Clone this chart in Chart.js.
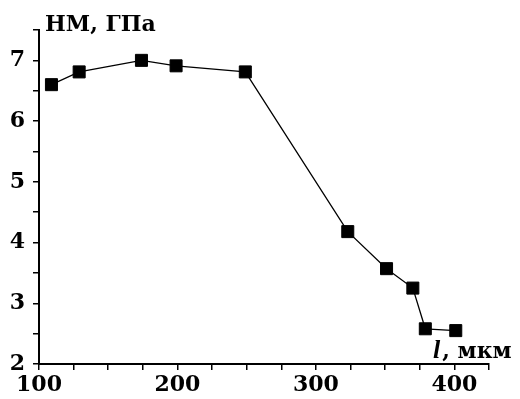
<!DOCTYPE html>
<html>
<head>
<meta charset="utf-8">
<script src="https://cdn.jsdelivr.net/npm/chart.js@4/dist/chart.umd.min.js"></script>
<style>
  html, body { margin: 0; padding: 0; background: #fff; }
  #wrap { width: 520px; height: 399px; }
</style>
</head>
<body>
<div id="wrap"><canvas id="hmChart" width="520" height="399"></canvas></div>
<script>
// depth l, мкм
const depthValues = [109, 129, 174, 199, 249, 323, 351, 370, 379, 401]
// HM, ГПа
const hmValues = [6.6, 6.81, 7.0, 6.91, 6.81, 4.18, 3.57, 3.25, 2.58, 2.55]
const xTickLabels = [100, 200, 300, 400]
const yTickLabels = [2, 3, 4, 5, 6, 7]
const yTitle = 'НМ, ГПа'
const xTitleVar = 'l'
const xTitleUnit = ', мкм'

const tickFont = { family: 'DejaVu Serif', size: 22, weight: 'bold' }

const axisText = {
  id: 'axisText',
  afterDraw(chart) {
    const { ctx, chartArea } = chart
    ctx.save()
    ctx.fillStyle = '#000'
    ctx.textBaseline = 'alphabetic'
    ctx.textAlign = 'left'
    ctx.font = 'bold 22px "DejaVu Serif"'
    ctx.fillText(yTitle, chartArea.left + 6, 31)

    ctx.font = 'italic bold 26px "Liberation Serif"'
    ctx.fillText(xTitleVar, 433, 358)
    const w = ctx.measureText(xTitleVar).width
    ctx.font = 'bold 22px "DejaVu Serif"'
    ctx.fillText(xTitleUnit, 433 + w + 2, 358)
    ctx.restore()
  }
}

new Chart(document.getElementById('hmChart'), {
  type: 'scatter',
  data: {
    datasets: [{
      data: depthValues.map((x, i) => ({ x, y: hmValues[i] })),
      showLine: true,
      borderColor: '#000',
      borderWidth: 1.3,
      backgroundColor: '#000',
      pointStyle: 'rect',
      pointRadius: 8.5,
      pointBorderWidth: 1,
      pointBorderColor: '#000',
      pointBackgroundColor: '#000'
    }]
  },
  options: {
    responsive: false,
    animation: false,
    layout: { padding: { top: 30, right: 31, left: 0, bottom: 0 } },
    plugins: { legend: { display: false }, tooltip: { enabled: false } },
    scales: {
      x: {
        type: 'linear',
        min: 100,
        max: 425,
        afterFit: s => { s.height = 35 },
        border: { display: true, color: '#000', width: 2 },
        grid: { drawOnChartArea: false, drawTicks: true, tickLength: 6, color: '#000', lineWidth: 1.5 },
        ticks: {
          stepSize: 25,
          autoSkip: false,
          maxRotation: 0,
          padding: 2,
          color: '#000',
          font: tickFont,
          callback: v => (xTickLabels.includes(v) ? String(v) : '')
        }
      },
      y: {
        type: 'linear',
        min: 2,
        max: 7.5,
        afterFit: s => { s.width = 39 },
        border: { display: true, color: '#000', width: 2 },
        grid: { drawOnChartArea: false, drawTicks: true, tickLength: 6, color: '#000', lineWidth: 1.5 },
        ticks: {
          stepSize: 0.5,
          autoSkip: false,
          padding: 8,
          color: '#000',
          font: tickFont,
          callback: v => (yTickLabels.includes(v) ? String(v) : '')
        }
      }
    }
  },
  plugins: [axisText]
})
</script>
</body>
</html>
